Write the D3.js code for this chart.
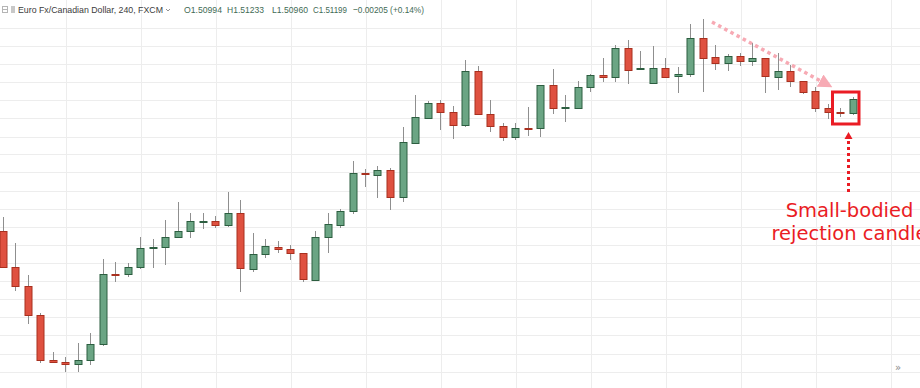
<!DOCTYPE html>
<meta charset="utf-8">
<html>
<head>
  <script src="https://cdnjs.cloudflare.com/ajax/libs/d3/7.8.5/d3.min.js"></script>
  <style>
    body { margin: 0; background: #fff; overflow: hidden; }
    svg { display: block; }
    .grid line { stroke: #ededed; stroke-width: 1; shape-rendering: crispEdges; }
    .wick { stroke: #8f8f8f; stroke-width: 1; shape-rendering: crispEdges; }
    .hdr { font-family: 'Liberation Sans', Arial, sans-serif; font-size: 9.6px; }
    .note { font-family: 'DejaVu Sans', Verdana, sans-serif; font-size: 19.5px; fill: #ea1c24; }
  </style>
</head>
<body>
<script>
  // EUR/CAD 240 candles
  var opens = [1.49272, 1.48746, 1.48469, 1.48045, 1.47388, 1.47359, 1.47330, 1.47388, 1.47622, 1.48644,
    1.48644, 1.48746, 1.49024, 1.49038, 1.49184, 1.49272, 1.49403, 1.49418, 1.49359, 1.49535,
    1.48717, 1.48936, 1.49038, 1.49009, 1.48951, 1.48556, 1.49184, 1.49359, 1.49564, 1.50119,
    1.50089, 1.50162, 1.49768, 1.50557, 1.50922, 1.51141, 1.51009, 1.50819, 1.51608, 1.50980,
    1.50805, 1.50644, 1.50776, 1.50776, 1.51403, 1.51068, 1.51068, 1.51374, 1.51549, 1.51520,
    1.51944, 1.51637, 1.51433, 1.51652, 1.51535, 1.51564, 1.52090, 1.51812, 1.51725, 1.51827,
    1.51754, 1.51798, 1.51520, 1.51608, 1.51462, 1.51316, 1.51068, 1.51009, 1.50994];
  var highs = [1.49476, 1.49097, 1.48629, 1.48075, 1.47505, 1.47432, 1.47637, 1.47783, 1.48863, 1.48819,
    1.48805, 1.49184, 1.49155, 1.49432, 1.49695, 1.49535, 1.49535, 1.49491, 1.49841, 1.49724,
    1.49243, 1.49155, 1.49126, 1.49067, 1.48951, 1.49272, 1.49535, 1.49593, 1.50294, 1.50177,
    1.50221, 1.50192, 1.50790, 1.51257, 1.51170, 1.51184, 1.51097, 1.51768, 1.51681, 1.51184,
    1.50849, 1.50849, 1.51082, 1.51403, 1.51637, 1.51257, 1.51462, 1.51564, 1.51798, 1.51987,
    1.52060, 1.51900, 1.51973, 1.51798, 1.51666, 1.52294, 1.52367, 1.51987, 1.51856, 1.51871,
    1.52017, 1.51798, 1.51871, 1.51695, 1.51462, 1.51374, 1.51126, 1.51068, 1.51233];
  var lows = [1.48732, 1.48396, 1.47914, 1.47345, 1.47345, 1.47213, 1.47213, 1.47315, 1.47593, 1.48527,
    1.48600, 1.48717, 1.48732, 1.48775, 1.49170, 1.49170, 1.49301, 1.49316, 1.49330, 1.48381,
    1.48673, 1.48878, 1.48951, 1.48848, 1.48527, 1.48556, 1.48951, 1.49316, 1.49520, 1.49914,
    1.49754, 1.49578, 1.49695, 1.50557, 1.50922, 1.50746, 1.50615, 1.50790, 1.50980, 1.50717,
    1.50586, 1.50600, 1.50659, 1.50644, 1.50980, 1.50863, 1.51068, 1.51301, 1.51447, 1.51447,
    1.51418, 1.51637, 1.51433, 1.51520, 1.51287, 1.51520, 1.51301, 1.51622, 1.51608, 1.51681,
    1.51681, 1.51287, 1.51330, 1.51374, 1.51272, 1.51009, 1.50907, 1.50936, 1.50960];
  var closes = [1.48746, 1.48469, 1.48045, 1.47388, 1.47359, 1.47330, 1.47388, 1.47622, 1.48644, 1.48629,
    1.48746, 1.49024, 1.49038, 1.49184, 1.49272, 1.49418, 1.49418, 1.49359, 1.49535, 1.48732,
    1.48936, 1.49053, 1.49009, 1.48951, 1.48571, 1.49184, 1.49374, 1.49564, 1.50119, 1.50104,
    1.50162, 1.49768, 1.50571, 1.50936, 1.51141, 1.51009, 1.50819, 1.51608, 1.50980, 1.50805,
    1.50644, 1.50776, 1.50761, 1.51403, 1.51068, 1.51082, 1.51374, 1.51549, 1.51520, 1.51944,
    1.51622, 1.51652, 1.51652, 1.51520, 1.51564, 1.52090, 1.51798, 1.51725, 1.51827, 1.51754,
    1.51798, 1.51535, 1.51608, 1.51462, 1.51301, 1.51068, 1.51009, 1.50994, 1.51199];

  // price levels of the horizontal grid
  var gridPrices = [1.5224, 1.5198, 1.5171, 1.5145, 1.5118, 1.5092, 1.5065, 1.5039, 1.5013, 1.4986,
    1.4960, 1.4933, 1.4907, 1.4880, 1.4854, 1.4828, 1.4801, 1.4775, 1.4748, 1.4722];
  // candle slots that carry a vertical grid line
  var gridSlots = [5, 11, 17, 23, 29, 35, 41, 47, 53, 59, 65, 71];

  var title = 'Euro Fx/Canadian Dollar, 240, FXCM';
  var ohlcLabels = ['O1.50994', 'H1.51233', 'L1.50960', 'C1.51199', '\u22120.00205 (+0.14%)'];
  var noteLines = ['Small-bodied', 'rejection candle'];

  var W = 920, H = 388;
  var green = '#6ba584', greenEdge = '#2c5e40';
  var red = '#df5140', redEdge = '#a8301f';

  var svg = d3.select('body').append('svg')
    .attr('width', W)
    .attr('height', H);

  var data = opens.map((o, i) => ({ i: i, o: o, h: highs[i], l: lows[i], c: closes[i] }));

  var x = d3.scaleLinear().domain([0, 68]).range([2.5, 852.5]);
  var y = d3.scaleLinear().domain([1.47213, 1.52367]).range([372, 19]);

  var px = v => Math.round(x(v)) + 0.5;
  var py = v => Math.round(y(v)) + 0.5;

  //Grid
  var grid = svg.append('g').attr('class', 'grid');
  grid.selectAll('.h').data(gridPrices).enter().append('line')
    .attr('x1', 0).attr('x2', W)
    .attr('y1', d => py(d)).attr('y2', d => py(d));
  grid.selectAll('.v').data(gridSlots).enter().append('line')
    .attr('x1', d => px(d) + 1).attr('x2', d => px(d) + 1)
    .attr('y1', 0).attr('y2', H);

  //Candles
  var candles = svg.append('g').selectAll('g').data(data).enter().append('g');

  candles.append('line')
    .attr('class', 'wick')
    .attr('x1', d => px(d.i)).attr('x2', d => px(d.i))
    .attr('y1', d => Math.round(y(d.h))).attr('y2', d => Math.round(y(d.l)));

  candles.append('rect')
    .attr('x', d => px(d.i) - 3.5)
    .attr('width', 7)
    .attr('y', d => Math.round(y(Math.max(d.o, d.c))) + 0.5)
    .attr('height', d => Math.max(1, Math.round(y(Math.min(d.o, d.c))) - Math.round(y(Math.max(d.o, d.c)))))
    .attr('fill', d => d.c >= d.o ? green : red)
    .attr('stroke', d => d.c >= d.o ? greenEdge : redEdge)
    .attr('stroke-width', 1);

  //Header legend
  var hdr = svg.append('g').attr('class', 'hdr');
  hdr.append('rect').attr('x', 2.5).attr('y', 6.5).attr('width', 5).attr('height', 6)
    .attr('fill', 'none').attr('stroke', '#b5b5b5');
  hdr.append('line').attr('x1', 3).attr('x2', 7).attr('y1', 9.5).attr('y2', 9.5).attr('stroke', '#b5b5b5');
  hdr.append('rect').attr('x', 11).attr('y', 6).attr('width', 4).attr('height', 7).attr('fill', '#c8c8c8');
  hdr.append('text').attr('x', 18).attr('y', 13).attr('fill', '#3c3c3c')
    .attr('textLength', 145).attr('lengthAdjust', 'spacingAndGlyphs').text(title);
  hdr.append('path').attr('d', 'M166,9 l2,2 l2,-2').attr('fill', 'none').attr('stroke', '#777').attr('stroke-width', 0.8);
  var ohlcX = [184, 227, 272, 313, 353];
  var ohlcW = [38, 37, 36, 34, 71];
  hdr.selectAll('.v').data(ohlcLabels).enter().append('text')
    .attr('x', (d, i) => ohlcX[i]).attr('y', 13)
    .attr('fill', '#3f6b55')
    .attr('textLength', (d, i) => ohlcW[i]).attr('lengthAdjust', 'spacingAndGlyphs')
    .text(d => d);

  //Pink dotted trend arrow
  var defs = svg.append('defs');
  defs.append('marker').attr('id', 'pinkHead')
    .attr('viewBox', '0 0 10 10').attr('refX', 5).attr('refY', 5)
    .attr('markerWidth', 4).attr('markerHeight', 4).attr('orient', 'auto')
    .append('path').attr('d', 'M0,0 L10,5 L0,10 z').attr('fill', '#f7aab4');

  svg.append('line')
    .attr('x1', x(56.76)).attr('y1', y(1.52323))
    .attr('x2', x(65.9)).attr('y2', y(1.51418))
    .attr('stroke', '#f7aab4').attr('stroke-width', 3.5)
    .attr('stroke-dasharray', '3.5 3.5')
    .attr('marker-end', 'url(#pinkHead)');

  //Box around the last candle
  svg.append('rect')
    .attr('x', x(66.4)).attr('y', y(1.51301))
    .attr('width', x(68.52) - x(66.4)).attr('height', y(1.50834) - y(1.51301))
    .attr('fill', 'none').attr('stroke', '#ea1c24').attr('stroke-width', 3);

  //Red dotted pointer
  var ax = Math.round(x(67.64)) + 0.5, aTop = y(1.50717), aBot = y(1.49797);
  svg.append('path')
    .attr('d', `M${ax},${aTop} L${ax + 4},${aTop + 7} L${ax - 4},${aTop + 7} Z`)
    .attr('fill', '#ea1c24');
  svg.append('line')
    .attr('x1', ax).attr('x2', ax)
    .attr('y1', aTop + 9).attr('y2', aBot)
    .attr('stroke', '#ea1c24').attr('stroke-width', 3)
    .attr('stroke-dasharray', '3 3');

  svg.selectAll('.note').data(noteLines).enter().append('text')
    .attr('class', 'note')
    .attr('x', ax + 1)
    .attr('y', (d, i) => aBot + 22 + i * 23)
    .attr('text-anchor', 'middle')
    .text(d => d);

  //Scroll-to-end button
  svg.append('text')
    .attr('x', 898).attr('y', 371)
    .attr('font-family', 'DejaVu Sans, sans-serif')
    .attr('font-size', 10).attr('fill', '#8a8a8a')
    .attr('text-anchor', 'middle')
    .text('\u00bb');
</script>
</body>
</html>
